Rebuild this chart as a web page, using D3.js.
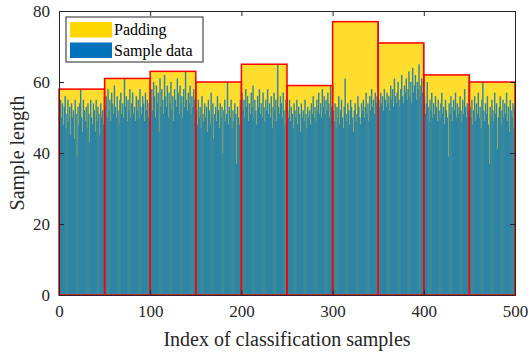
<!DOCTYPE html>
<html>
<head>
<meta charset="utf-8">
<script src="https://cdn.jsdelivr.net/npm/d3@7"></script>
<style>
  html, body { margin: 0; padding: 0; background: #fff; }
  svg { display: block; }
  svg text { font-family: "Liberation Serif", "Times New Roman", Times, serif; }
</style>
</head>
<body>
<svg id="chart" width="530" height="353"></svg>
<script>
// Padded length of each group of 50 samples
const groupSize = 50;
const paddedLengths = [58, 61, 63, 60, 65, 59, 77, 71, 62, 60];

const sampleLengths = [
  52,55,50,54,48,53,56,47,51,55, 49,53,45,54,50,52,44,55,51,39, 53,48,54,58,50,46,55,52,49,53, 47,54,51,43,55,50,48,54,52,46, 55,49,53,51,45,54,50,52,48,56,
  53,56,50,58,52,55,49,57,54,51, 59,53,50,56,52,48,55,57,51,54, 50,61,53,56,49,55,52,58,50,54, 57,51,53,49,56,52,55,50,58,53, 51,56,54,49,57,52,55,50,54,56,
  55,58,52,60,56,50,59,54,57,46, 61,53,58,55,51,62,56,53,59,50, 57,54,60,52,56,49,58,55,53,61, 57,51,59,54,56,50,58,53,63,55, 52,57,54,59,51,56,53,58,55,50,
  52,48,55,50,53,47,56,51,49,54, 50,53,46,55,52,48,57,50,54,44, 51,53,49,56,52,47,54,50,53,40, 52,55,49,51,60,48,53,50,55,47, 52,49,54,51,37,53,50,48,55,51,
  57,52,55,50,58,53,56,49,54,51, 57,53,59,50,55,52,48,56,53,58, 51,54,50,57,53,49,55,52,58,51, 54,50,56,47,53,57,52,55,49,65, 53,51,56,54,50,57,52,48,55,53,
  52,50,55,49,53,51,47,54,52,50, 55,48,53,51,46,54,50,52,49,55, 51,47,53,50,52,48,54,51,56,50, 53,49,55,52,57,51,54,50,58,53, 56,51,55,52,57,54,50,59,53,51,
  52,49,54,47,53,50,56,48,52,55, 50,47,53,61,51,49,54,52,48,55, 53,50,46,52,54,49,51,56,53,50, 48,54,52,55,50,53,57,51,54,49, 56,52,58,53,55,51,57,54,56,77,
  55,53,57,54,56,52,58,55,53,57, 54,56,52,59,55,58,53,61,56,54, 57,60,55,53,58,62,56,54,59,57, 61,55,58,63,56,60,54,64,57,59, 62,55,60,58,65,56,59,61,57,71,
  56,51,54,60,53,49,55,52,57,50, 54,51,56,53,49,55,52,50,54,57, 51,53,48,55,52,50,39,54,51,56, 53,49,55,52,57,50,54,51,53,56, 52,49,55,51,58,53,50,54,52,62,
  53,50,55,48,52,56,49,54,51,57, 50,53,47,55,60,52,49,54,51,56, 48,37,53,50,55,52,49,57,51,54, 41,50,53,56,48,52,55,50,54,51, 57,49,53,46,55,52,50,54,47,53
];

const xTicks = [0, 100, 200, 300, 400, 500];
const yTicks = [0, 20, 40, 60, 80];
const legendItems = [
  { label: 'Padding', color: '#FFD700' },
  { label: 'Sample data', color: '#0072BD' }
];

const PADDING_FILL = '#FFDD2E';
const SAMPLE_FILL = '#0072BD';
const AXIS_COLOR = '#262626';
const SERIF = '"Liberation Serif", "Times New Roman", Times, serif';

const svg = d3.select('#chart');
const margin = { left: 59, right: 15, top: 11, bottom: 58 };
const width = 530 - margin.left - margin.right;
const height = 353 - margin.top - margin.bottom;

const x = d3.scaleLinear().domain([0, 500]).range([0, width]);
const y = d3.scaleLinear().domain([0, 80]).range([height, 0]);

const g = svg.append('g').attr('transform', `translate(${margin.left},${margin.top})`);

const groups = paddedLengths.map((h, i) => ({ start: i * groupSize, end: (i + 1) * groupSize, h }));

// Padding blocks (fill only)
g.append('g').selectAll('rect')
  .data(groups)
  .join('rect')
  .attr('x', d => x(d.start))
  .attr('y', d => y(d.h))
  .attr('width', d => x(d.end) - x(d.start))
  .attr('height', d => y(0) - y(d.h))
  .attr('fill', PADDING_FILL);

// Sample bars — opacity on the group so neighbouring bars don't double-blend;
// a little overlap hides the antialiasing seams between sub-pixel bars
const barW = x(1) - x(0);
g.append('g')
  .attr('opacity', 0.82)
  .selectAll('rect')
  .data(sampleLengths)
  .join('rect')
  .attr('x', (d, i) => x(i))
  .attr('y', d => y(d))
  .attr('width', (d, i) => i === sampleLengths.length - 1 ? barW : barW + 0.5)
  .attr('height', d => y(0) - y(d))
  .attr('fill', SAMPLE_FILL);

// Red outline of each padding block
g.append('g').selectAll('rect')
  .data(groups)
  .join('rect')
  .attr('x', d => x(d.start))
  .attr('y', d => y(d.h))
  .attr('width', d => x(d.end) - x(d.start))
  .attr('height', d => y(0) - y(d.h))
  .attr('fill', 'none')
  .attr('stroke', '#FF0000')
  .attr('stroke-width', 1.5);

// Axes (MATLAB style: box, inward ticks)
const tickLen = 5;
g.append('g').attr('transform', `translate(0,${height})`)
  .call(d3.axisBottom(x).tickValues(xTicks).tickSizeInner(-tickLen).tickSizeOuter(0).tickPadding(10));
g.append('g')
  .call(d3.axisLeft(y).tickValues(yTicks).tickSizeInner(-tickLen).tickSizeOuter(0).tickPadding(9));
g.append('g')
  .call(d3.axisTop(x).tickValues(xTicks).tickSizeInner(-tickLen).tickSizeOuter(0).tickFormat(''));
g.append('g').attr('transform', `translate(${width},0)`)
  .call(d3.axisRight(y).tickValues(yTicks).tickSizeInner(-tickLen).tickSizeOuter(0).tickFormat(''));

g.selectAll('.domain').attr('stroke', AXIS_COLOR).attr('stroke-width', 1);
g.selectAll('.tick line').attr('stroke', AXIS_COLOR).attr('stroke-width', 1);
g.selectAll('.tick text')
  .attr('fill', AXIS_COLOR)
  .attr('font-size', 17)
  .attr('font-family', SERIF);

// Axis titles
svg.append('text')
  .attr('x', margin.left + width / 2)
  .attr('y', 346)
  .attr('text-anchor', 'middle')
  .attr('font-size', 20)
  .attr('font-family', SERIF)
  .attr('fill', AXIS_COLOR)
  .text('Index of classification samples');

svg.append('text')
  .attr('transform', `translate(24,${margin.top + height / 2}) rotate(-90)`)
  .attr('text-anchor', 'middle')
  .attr('font-size', 20)
  .attr('font-family', SERIF)
  .attr('fill', AXIS_COLOR)
  .text('Sample length');

// Legend
const legend = svg.append('g').attr('transform', 'translate(66,17)');
legend.append('rect')
  .attr('width', 137).attr('height', 45)
  .attr('fill', '#fff')
  .attr('stroke', AXIS_COLOR)
  .attr('stroke-width', 1);
const item = legend.selectAll('g.item')
  .data(legendItems)
  .join('g')
  .attr('class', 'item')
  .attr('transform', (d, i) => `translate(4,${5 + i * 20.5})`);
item.append('rect')
  .attr('width', 42).attr('height', 15.5)
  .attr('fill', d => d.color);
item.append('text')
  .attr('x', 44)
  .attr('y', 13)
  .attr('font-size', 16)
  .attr('font-family', SERIF)
  .attr('fill', '#000')
  .text(d => d.label);
</script>
</body>
</html>
